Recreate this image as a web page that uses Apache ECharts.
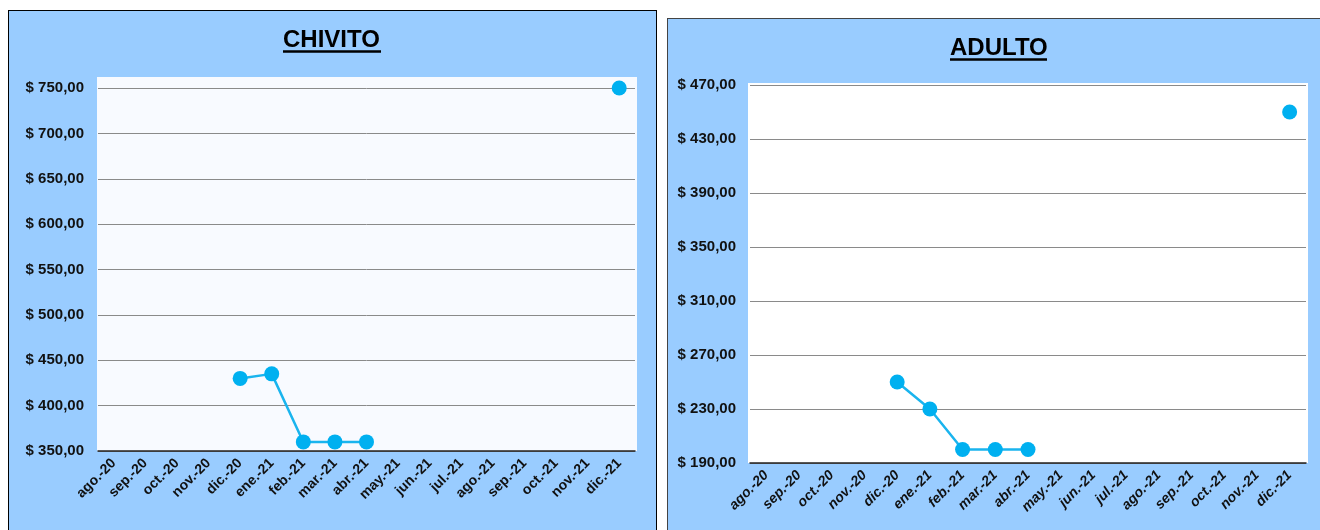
<!DOCTYPE html>
<html>
<head>
<meta charset="utf-8">
<script src="https://cdn.jsdelivr.net/npm/echarts@6/dist/echarts.min.js"></script>
<style>
  body { margin: 0; background: #fff; overflow: hidden; width: 1320px; height: 530px; position: relative; }
  .panel { position: absolute; background: #99ccff; border: 1px solid #000; box-sizing: border-box; }
  #chivito { left: 8px; top: 10px; width: 649px; height: 540px; }
  #adulto { left: 667px; top: 18px; width: 670px; height: 540px; border-color: #444; }
</style>
</head>
<body>
<div id="chivito" class="panel"></div>
<div id="adulto" class="panel"></div>
<script>
// meses
const months = ['ago.-20', 'sep.-20', 'oct.-20', 'nov.-20', 'dic.-20', 'ene.-21', 'feb.-21', 'mar.-21',
  'abr.-21', 'may.-21', 'jun.-21', 'jul.-21', 'ago.-21', 'sep.-21', 'oct.-21', 'nov.-21', 'dic.-21'];

// precios (null = sin dato)
const chivitoPrices = [null, null, null, null, 430, 435, 360, 360, 360, null, null, null, null, null, null, null, 750];
const adultoPrices = [null, null, null, null, 250, 230, 200, 200, 200, null, null, null, null, null, null, null, 450];

// escalas
const chivitoTicks = { min: 350, max: 750, step: 50 };
const adultoTicks = { min: 190, max: 470, step: 40 };

const FONT = 'Liberation Sans';

function money(v) {
  return '$ ' + v.toFixed(2).replace('.', ',');
}

function buildOption(cfg) {
  return {
    animation: false,
    title: {
      text: cfg.title,
      left: cfg.titleX,
      top: cfg.titleY,
      padding: 0,
      textStyle: { fontSize: 24, fontWeight: 700, color: '#000', fontFamily: FONT }
    },
    graphic: [
      // fondo del area de trazado
      {
        type: 'rect', z: -10, silent: true,
        shape: cfg.plotBg,
        style: { fill: cfg.plotColor }
      },
      // subrayado del titulo
      {
        type: 'line', silent: true,
        shape: cfg.underline,
        style: { stroke: '#000', lineWidth: 2.5 }
      }
    ],
    grid: cfg.grid,
    xAxis: {
      type: 'category',
      data: months,
      boundaryGap: true,
      axisLine: { lineStyle: { color: '#222', width: 1.5 } },
      axisTick: { show: false },
      axisLabel: {
        rotate: 45,
        interval: 0,
        margin: 10,
        color: '#111',
        fontSize: 14,
        fontWeight: 700,
        fontStyle: cfg.xItalic ? 'italic' : 'normal',
        fontFamily: FONT
      }
    },
    yAxis: {
      type: 'value',
      min: cfg.ticks.min,
      max: cfg.ticks.max,
      interval: cfg.ticks.step,
      axisLine: { show: false },
      axisTick: { show: false },
      splitLine: { lineStyle: { color: '#8a8a8a', width: 1 } },
      axisLabel: {
        formatter: money,
        margin: 14,
        color: '#111',
        fontSize: 15,
        fontWeight: 700,
        fontFamily: FONT
      }
    },
    series: [{
      type: 'line',
      data: cfg.values,
      connectNulls: false,
      symbol: 'circle',
      symbolSize: 15,
      showSymbol: true,
      lineStyle: { color: '#1ab4ee', width: 2.5 },
      itemStyle: { color: '#00b0f0' }
    }]
  };
}

const chartA = echarts.init(document.getElementById('chivito'));
chartA.setOption(buildOption({
  title: 'CHIVITO',
  titleX: 274,
  titleY: 17,
  underline: { x1: 274, y1: 40.5, x2: 372, y2: 40.5 },
  grid: { left: 89, top: 77, width: 537, height: 363 },
  plotBg: { x: 88, y: 66, width: 540, height: 374 },
  plotColor: '#f8faff',
  ticks: chivitoTicks,
  values: chivitoPrices,
  xItalic: false
}));

const chartB = echarts.init(document.getElementById('adulto'));
chartB.setOption(buildOption({
  title: 'ADULTO',
  titleX: 282,
  titleY: 17,
  underline: { x1: 282, y1: 40.5, x2: 379, y2: 40.5 },
  grid: { left: 82, top: 66, width: 556, height: 378 },
  plotBg: { x: 80, y: 64, width: 560, height: 380 },
  plotColor: '#ffffff',
  ticks: adultoTicks,
  values: adultoPrices,
  xItalic: true
}));

window.addEventListener('resize', function () {
  chartA.resize();
  chartB.resize();
});
</script>
</body>
</html>
